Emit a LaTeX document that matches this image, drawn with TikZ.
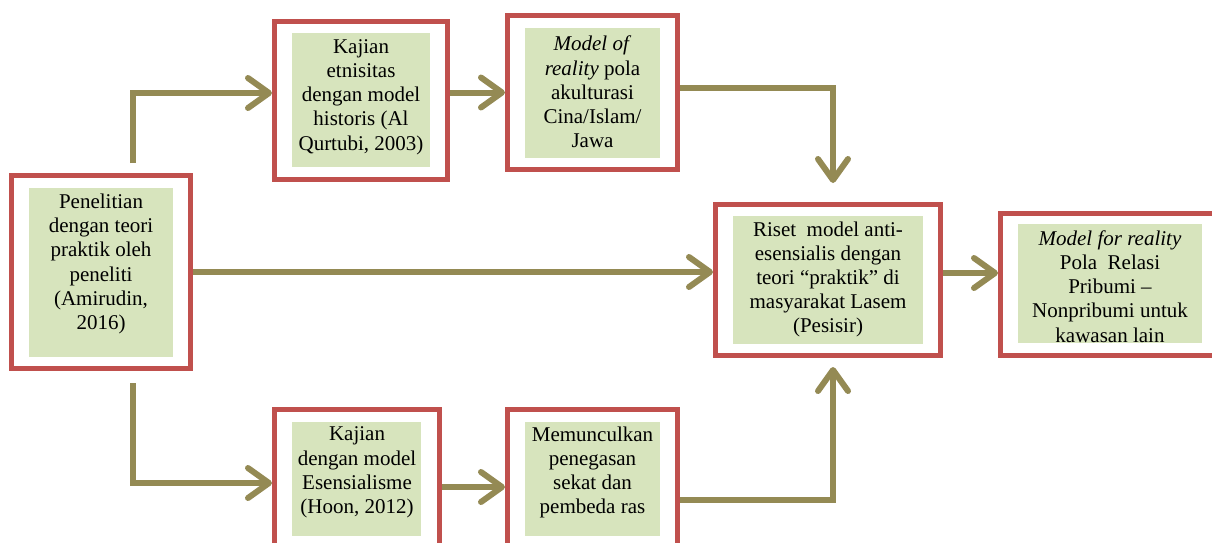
\documentclass[tikz,border=0pt]{standalone}
\usepackage{fontspec}
\setmainfont{Liberation Serif}
\usetikzlibrary{arrows.meta}
\definecolor{frameRed}{HTML}{C0504D}
\definecolor{fillGreen}{HTML}{D7E4BD}
\definecolor{olive}{HTML}{948A54}
\tikzset{
  frame/.style={draw=frameRed, line width=5pt, fill=white, rectangle, inner sep=0pt},
  greenbox/.style={fill=fillGreen, rectangle, inner sep=0pt},
  txt/.style={align=center, inner sep=0pt, font=\fontsize{21pt}{24.2pt}\selectfont},
  conn/.style={draw=olive, line width=6pt, line join=miter,
    -{Straight Barb[length=21pt,width=30pt,line cap=round,line join=round]}}
}
\begin{document}
\begin{tikzpicture}[x=1pt,y=-1pt]
\useasboundingbox (0,0) rectangle (1212,542);
\clip (0,0) rectangle (1212,542);
% frames
\node[frame, minimum width=179pt, minimum height=193pt] (f1) at (101,272) {};
\node[frame, minimum width=173pt, minimum height=158pt] (f2) at (361,100.5) {};
\node[frame, minimum width=170pt, minimum height=154pt] (f3) at (592.5,92.5) {};
\node[frame, minimum width=225pt, minimum height=151pt] (f4) at (828,280) {};
\node[frame, minimum width=219pt, minimum height=142pt] (f5) at (1110,284.5) {};
\node[frame, minimum width=165pt, minimum height=139pt] (f6) at (357,479) {};
\node[frame, minimum width=170pt, minimum height=139pt] (f7) at (592.5,479) {};
% green panels
\node[greenbox, minimum width=144pt, minimum height=169pt] (g1) at (101,272.5) {};
\node[greenbox, minimum width=138pt, minimum height=134pt] (g2) at (361,100) {};
\node[greenbox, minimum width=135pt, minimum height=130pt] (g3) at (592.5,93) {};
\node[greenbox, minimum width=190pt, minimum height=128pt] (g4) at (828,280) {};
\node[greenbox, minimum width=184pt, minimum height=119pt] (g5) at (1110,283.5) {};
\node[greenbox, minimum width=129pt, minimum height=114pt] (g6) at (356.5,479) {};
\node[greenbox, minimum width=135pt, minimum height=114pt] (g7) at (592.5,479) {};
% texts
\node[txt] (t1) at (101,264) {Penelitian\\dengan teori\\praktik oleh\\peneliti\\(Amirudin,\\2016)};
\node[txt] (t2) at (361,97) {Kajian\\etnisitas\\dengan model\\historis (Al\\Qurtubi, 2003)};
\node[txt] (t3) at (592.5,92) {\textit{Model of}\\\textit{reality} pola\\akulturasi\\Cina/Islam/\\Jawa};
\node[txt] (t4) at (828,279.5) {Riset\ \ model anti-\\esensialis dengan\\teori “praktik” di\\masyarakat Lasem\\(Pesisir)};
\node[txt] (t5) at (1110,286.5) {\textit{Model for reality}\\Pola\ \ Relasi\\Pribumi –\\Nonpribumi untuk\\kawasan lain};
\node[txt] (t6) at (357,472.5) {Kajian\\dengan model\\Esensialisme\\(Hoon, 2012)};
\node[txt] (t7) at (592.5,472.5) {Memunculkan\\penegasan\\sekat dan\\pembeda ras};
% free ends
\coordinate (c1t) at (133,163);
\coordinate (c1b) at (133,383);
\coordinate (c4t) at (833,183);
\coordinate (c4b) at (833,367);
% connectors
\draw[conn] (c1t) |- ([yshift=7.5pt]f2.west);
\draw[conn] (f2.east|-f3.west) -- (f3.west);
\draw[conn] ([yshift=4.5pt]f3.east) -| (c4t);
\draw[conn] (f1.east) -- (f4.west|-f1.east);
\draw[conn] (f4.east|-0,273) -- (f5.west|-0,273);
\draw[conn] (c1b) |- (f6.west|-0,483);
\draw[conn] (f6.east|-0,487) -- (f7.west|-0,487);
\draw[conn] (f7.east|-0,500) -| (c4b);
\end{tikzpicture}
\end{document}
